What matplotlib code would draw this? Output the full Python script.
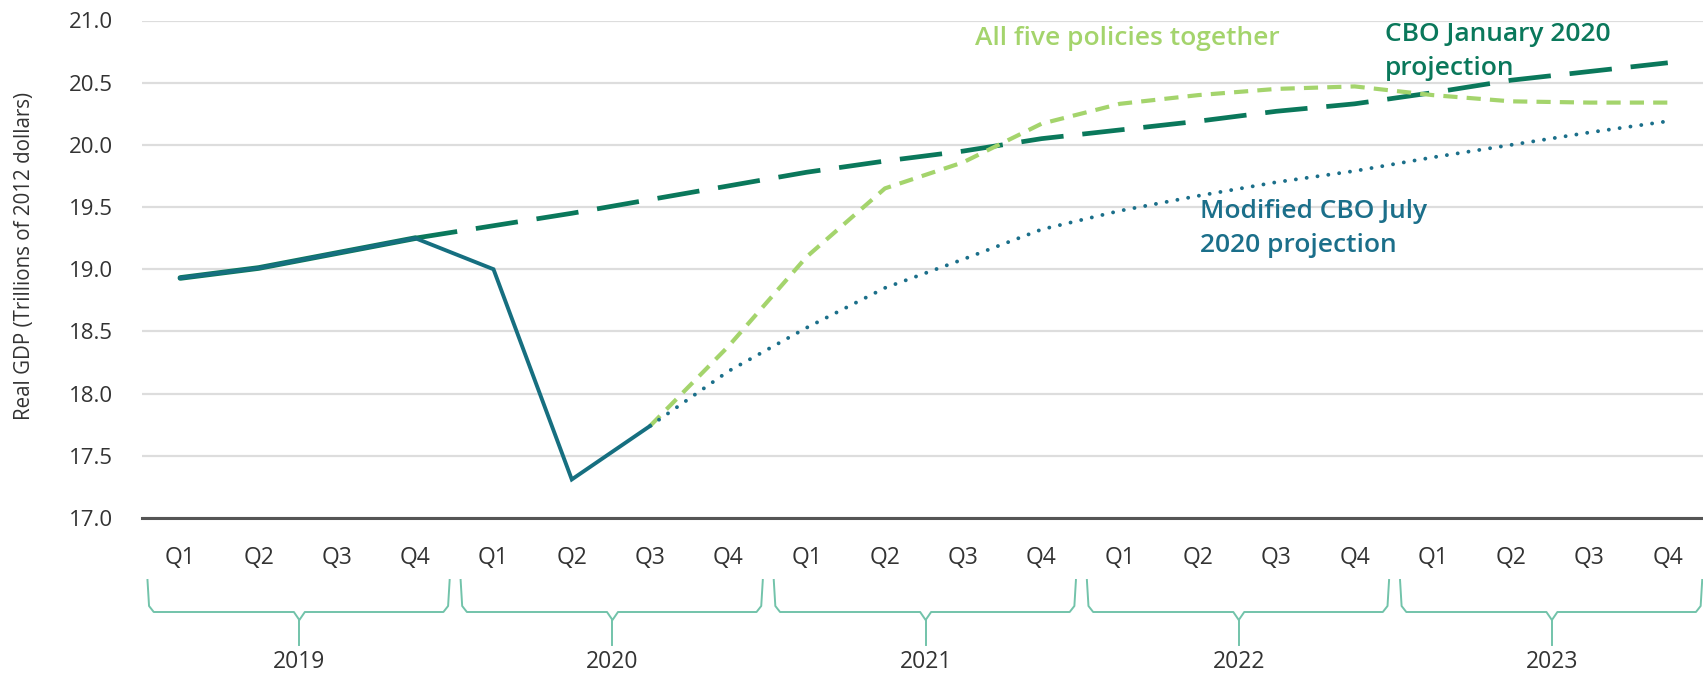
import numpy as np
import matplotlib
matplotlib.use("Agg")
import matplotlib.pyplot as plt
from matplotlib.transforms import blended_transform_factory

plt.rcParams['font.family'] = ['Open Sans', 'DejaVu Sans']

# ── data ────────────────────────────────────────────────────────────────
years = ['2019', '2020', '2021', '2022', '2023']
quarters = ['Q1', 'Q2', 'Q3', 'Q4'] * len(years)
x = np.arange(len(quarters))

# actual GDP, Q1 2019 .. Q3 2020
actual = [18.93, 19.01, 19.13, 19.25, 19.00, 17.31, 17.74]
# CBO January 2020 projection, Q1 2019 .. Q4 2023 (history part = 2019)
cbo_jan = [18.93, 19.01, 19.13, 19.25, 19.35, 19.45, 19.56, 19.67, 19.78, 19.87,
           19.95, 20.05, 20.12, 20.19, 20.27, 20.33, 20.42, 20.52, 20.59, 20.66]
# all five policies together, Q3 2020 .. Q4 2023
five_pol = [17.74, 18.38, 19.10, 19.65, 19.86, 20.17, 20.33, 20.40, 20.45,
            20.47, 20.40, 20.35, 20.34, 20.34]
# modified CBO July 2020 projection, Q3 2020 .. Q4 2023
cbo_jul = [17.74, 18.18, 18.53, 18.85, 19.08, 19.32, 19.47, 19.59, 19.70,
           19.79, 19.90, 20.00, 20.10, 20.19]

C_ACT = '#166f80'
C_JAN = '#0a785b'
C_FIVE = '#a4d46c'
C_JUL = '#1b6f8a'
C_BRACE = '#72c3aa'
C_TXT = '#333333'

W, H = 1703, 676
fig = plt.figure(figsize=(W / 100, H / 100), dpi=100, facecolor='white')
ax = fig.add_axes([142 / W, 1 - 518 / H, 1 - 142 / W, (518 - 20.5) / H])

ax.set_xlim(-0.49, 19.45)
ax.set_ylim(17.0, 21.0)
ax.set_yticks(np.arange(17.0, 21.01, 0.5))
ax.set_yticklabels([f'{v:.1f}' for v in np.arange(17.0, 21.01, 0.5)])
ax.grid(axis='y', color='#dddddd', linewidth=1.6)
ax.set_axisbelow(True)
for s in ['top', 'right', 'left']:
    ax.spines[s].set_visible(False)
ax.spines['bottom'].set_color('#555555')
ax.spines['bottom'].set_linewidth(2.2)
ax.tick_params(axis='y', length=0, pad=21, labelsize=16, labelcolor=C_TXT)
ax.set_xticks(x)
ax.set_xticklabels(quarters)
ax.tick_params(axis='x', length=0, pad=20, labelsize=16.5, labelcolor=C_TXT)
fig.text(25 / W, 1 - 256 / H, 'Real GDP (Trillions of 2012 dollars)', rotation=90,
         ha='center', va='center', fontsize=14.8, color=C_TXT)

# ── lines ───────────────────────────────────────────────────────────────
ax.plot(x[:4], cbo_jan[:4], color=C_JAN, lw=4.0, solid_capstyle='round', zorder=3)
ax.plot(x[3:], cbo_jan[3:], color=C_JAN, lw=3.4, dashes=(9, 4), zorder=3)
ax.plot(x[6:], five_pol, color=C_FIVE, lw=3.0, dashes=(3.4, 2.2), zorder=4)
ax.plot(x[6:], cbo_jul, color=C_JUL, lw=2.8, dashes=(0.01, 2.8),
        dash_capstyle='round', zorder=4)
ax.plot(x[:7], actual, color=C_ACT, lw=2.8, solid_joinstyle='miter', zorder=5)

# ── labels (baselines placed in pixel rows of the figure) ───────────────
tr_lbl = blended_transform_factory(ax.transData, fig.transFigure)


def fy(py):
    return 1 - py / H


def label(xi, base_px, s, color):
    ax.text(xi, fy(base_px), s, color=color, fontsize=19, fontweight='semibold',
            va='baseline', ha='left', transform=tr_lbl)


label(10.15, 45, 'All five policies together', C_FIVE)
label(15.39, 41, 'CBO January 2020', C_JAN)
label(15.39, 75, 'projection', C_JAN)
label(13.02, 218, 'Modified CBO July', C_JUL)
label(13.02, 252, '2020 projection', C_JUL)

# ── year brackets below the quarter labels ──────────────────────────────
top, hor, tip = 580, 612, 645
for k, yr in enumerate(years):
    x0, x1, c = 4 * k - 0.42, 4 * k + 3.44, 4 * k + 1.52
    xs = [x0, x0 + 0.02, x0 + 0.08, c - 0.07, c, c + 0.07, x1 - 0.08, x1 - 0.02, x1]
    ys = [top, hor - 6, hor, hor, hor + 8, hor, hor, hor - 6, top]
    ax.plot(xs, [fy(v) for v in ys], color=C_BRACE, lw=1.4, transform=tr_lbl, clip_on=False)
    ax.plot([c, c], [fy(hor + 8), fy(tip)], color=C_BRACE, lw=1.4, transform=tr_lbl, clip_on=False)
    ax.text(c, fy(662), yr, ha='center', va='center', fontsize=16.5, color=C_TXT,
            transform=tr_lbl)

fig.savefig('out.png', dpi=100, facecolor='white')
